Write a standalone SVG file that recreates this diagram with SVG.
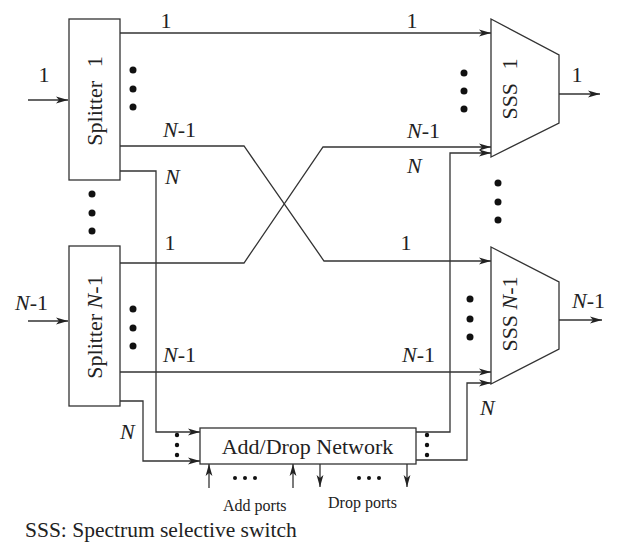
<svg xmlns="http://www.w3.org/2000/svg" width="620" height="552" viewBox="0 0 620 552">
<style>
text{font-family:"Liberation Serif","Times New Roman",serif;font-size:22px;fill:#222}
.i{font-style:italic}
.sm{font-size:16px}
.cap{font-size:21.5px}
.box{fill:#fff;stroke:#333;stroke-width:1.3}
.ln{fill:none;stroke:#333;stroke-width:1.3}
.dot{fill:#111}
</style>
<defs>
<marker id="arr" viewBox="0 0 12 8" refX="12" refY="4" markerWidth="12" markerHeight="8" markerUnits="userSpaceOnUse" orient="auto">
<path d="M0,0.6 L12,4 L0,7.4 L3,4 z" fill="#222"/>
</marker>
</defs>
<rect width="620" height="552" fill="#fff"/>
<g id="connectors">
<path class="ln" d="M28,100 H68" marker-end="url(#arr)"/>
<path class="ln" d="M28,321 H68" marker-end="url(#arr)"/>
<path class="ln" d="M120,33 H491" marker-end="url(#arr)"/>
<path class="ln" d="M120,146 H244 L324,261 H491" marker-end="url(#arr)"/>
<path class="ln" d="M120,171 H156 V432 H200" marker-end="url(#arr)"/>
<path class="ln" d="M120,263 H244 L323,147 H491" marker-end="url(#arr)"/>
<path class="ln" d="M120,372 H491" marker-end="url(#arr)"/>
<path class="ln" d="M120,401 H143 V461 H200" marker-end="url(#arr)"/>
<path class="ln" d="M416,432 H450 V153 H491" marker-end="url(#arr)"/>
<path class="ln" d="M416,460 H467 V383 H491" marker-end="url(#arr)"/>
<path class="ln" d="M559,94 H600" marker-end="url(#arr)"/>
<path class="ln" d="M559,320 H602" marker-end="url(#arr)"/>
<path class="ln" d="M209,488 V464" marker-end="url(#arr)"/>
<path class="ln" d="M293,488 V464" marker-end="url(#arr)"/>
<path class="ln" d="M320,464 V487" marker-end="url(#arr)"/>
<path class="ln" d="M407,464 V487" marker-end="url(#arr)"/>
</g>
<g id="splitter1">
<rect class="box" x="69" y="19" width="51" height="161"/>
<text transform="translate(102,101) rotate(-90)" text-anchor="middle">Splitter <tspan dx="8">1</tspan></text>
</g>
<g id="splitterN1">
<rect class="box" x="69" y="246" width="51" height="160"/>
<text transform="translate(102,327) rotate(-90)" text-anchor="middle">Splitter <tspan class="i">N</tspan>-1</text>
</g>
<g id="sss1">
<polygon class="box" points="491,19 559,55 559,123 491,157"/>
<text transform="translate(517,89) rotate(-90)" text-anchor="middle">SSS <tspan dx="8">1</tspan></text>
</g>
<g id="sssN1">
<polygon class="box" points="491,247 559,282 559,349 491,384"/>
<text transform="translate(517,314) rotate(-90)" text-anchor="middle">SSS <tspan class="i">N</tspan>-1</text>
</g>
<g id="adddrop">
<rect class="box" x="200" y="428" width="216" height="36"/>
<text x="307.5" y="454" text-anchor="middle">Add/Drop Network</text>
</g>
<g id="dots">
<circle class="dot" cx="133" cy="70" r="3.5"/><circle class="dot" cx="133" cy="89" r="3.5"/><circle class="dot" cx="133" cy="107" r="3.5"/>
<circle class="dot" cx="92" cy="194" r="3.5"/><circle class="dot" cx="92" cy="213" r="3.5"/><circle class="dot" cx="92" cy="231" r="3.5"/>
<circle class="dot" cx="133" cy="309" r="3.5"/><circle class="dot" cx="133" cy="328" r="3.5"/><circle class="dot" cx="133" cy="346" r="3.5"/>
<circle class="dot" cx="464" cy="73" r="3.5"/><circle class="dot" cx="464" cy="91" r="3.5"/><circle class="dot" cx="464" cy="109" r="3.5"/>
<circle class="dot" cx="498" cy="183" r="3.5"/><circle class="dot" cx="498" cy="202" r="3.5"/><circle class="dot" cx="498" cy="220" r="3.5"/>
<circle class="dot" cx="470" cy="299" r="3.5"/><circle class="dot" cx="470" cy="319" r="3.5"/><circle class="dot" cx="470" cy="337" r="3.5"/>
<circle class="dot" cx="177" cy="435" r="2.2"/><circle class="dot" cx="177" cy="445" r="2.2"/><circle class="dot" cx="177" cy="455" r="2.2"/>
<circle class="dot" cx="427" cy="435" r="2.2"/><circle class="dot" cx="427" cy="445" r="2.2"/><circle class="dot" cx="427" cy="455" r="2.2"/>
<circle class="dot" cx="235" cy="478" r="2"/><circle class="dot" cx="245" cy="478" r="2"/><circle class="dot" cx="255" cy="478" r="2"/>
<circle class="dot" cx="359" cy="478" r="2"/><circle class="dot" cx="369" cy="478" r="2"/><circle class="dot" cx="379" cy="478" r="2"/>
</g>
<g id="labels">
<text x="44" y="82" text-anchor="middle">1</text>
<text x="166" y="28" text-anchor="middle">1</text>
<text x="412" y="28" text-anchor="middle">1</text>
<text x="163" y="137"><tspan class="i">N</tspan>-1</text>
<text x="165" y="184" class="i">N</text>
<text x="407" y="138"><tspan class="i">N</tspan>-1</text>
<text x="407" y="173" class="i">N</text>
<text x="170" y="250" text-anchor="middle">1</text>
<text x="406" y="250" text-anchor="middle">1</text>
<text x="15" y="310"><tspan class="i">N</tspan>-1</text>
<text x="163" y="362"><tspan class="i">N</tspan>-1</text>
<text x="402" y="362"><tspan class="i">N</tspan>-1</text>
<text x="120" y="439" class="i">N</text>
<text x="480" y="415" class="i">N</text>
<text x="577" y="82" text-anchor="middle">1</text>
<text x="572" y="308"><tspan class="i">N</tspan>-1</text>
<text x="223" y="511" class="sm">Add ports</text>
<text x="328" y="508" class="sm">Drop ports</text>
<text x="25" y="537" class="cap">SSS: Spectrum selective switch</text>
</g>
</svg>
